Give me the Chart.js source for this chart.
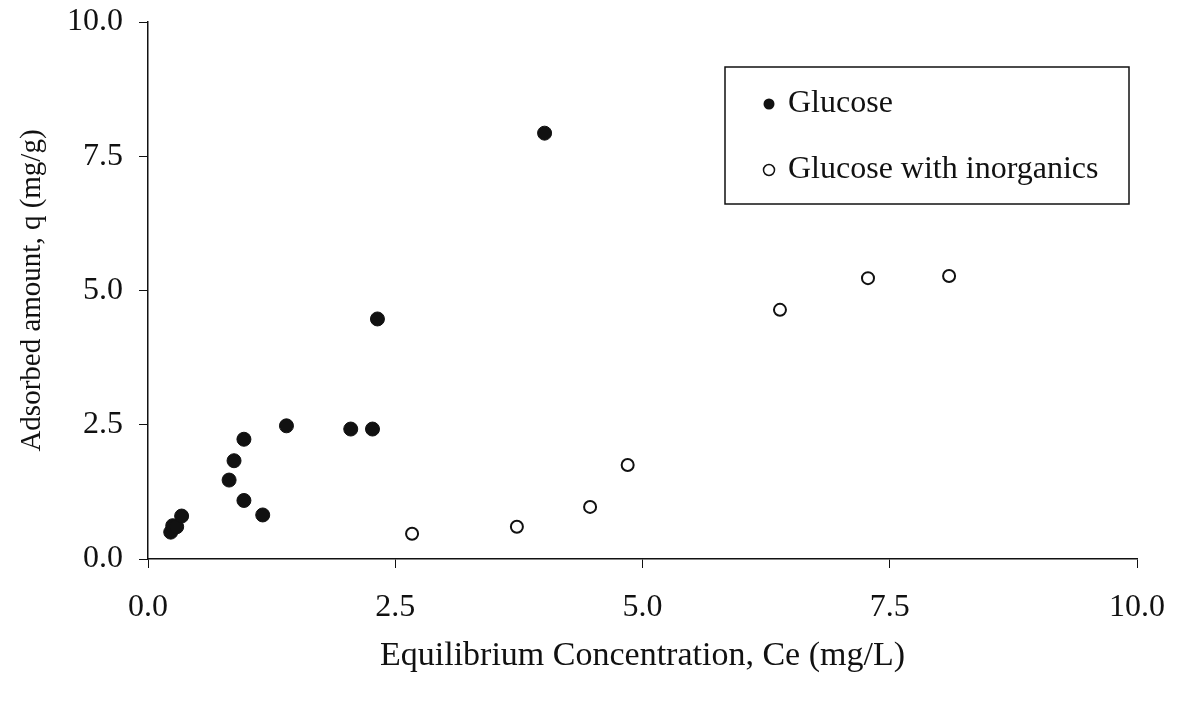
<!DOCTYPE html>
<html>
<head>
<meta charset="utf-8">
<script src="https://cdn.jsdelivr.net/npm/chart.js@4"></script>
<style>
  html, body { margin: 0; padding: 0; background: #fff; }
  #wrap { width: 1179px; height: 701px; }
</style>
</head>
<body>
<div id="wrap"><canvas id="isoChart" width="1179" height="701"></canvas></div>
<script>
// valores
const glucoseX = [0.23, 0.25, 0.29, 0.34, 0.82, 0.87, 0.97, 0.97, 1.16, 1.40, 2.05, 2.27, 2.32, 4.01];
const glucoseY = [0.50, 0.62, 0.60, 0.80, 1.47, 1.83, 2.23, 1.09, 0.82, 2.48, 2.42, 2.42, 4.47, 7.93];
const inorgX = [2.67, 3.73, 4.47, 4.85, 6.39, 7.28, 8.10];
const inorgY = [0.47, 0.60, 0.97, 1.75, 4.64, 5.23, 5.27];
const seriesNames = ['Glucose', 'Glucose with inorganics'];
const axisTicks = [0, 2.5, 5, 7.5, 10];

const toPoints = (xs, ys) => xs.map((x, i) => ({ x: x, y: ys[i] }));
const serif = "'Liberation Serif', 'Times New Roman', serif";

// leyenda en recuadro dentro del area del grafico
const boxLegend = {
    id: 'boxLegend',
    afterDraw(chart) {
        const ctx = chart.ctx;
        const left = 725, top = 67, w = 404, h = 137;
        ctx.save();
        ctx.strokeStyle = '#111';
        ctx.lineWidth = 1.5;
        ctx.strokeRect(left, top, w, h);
        ctx.font = '32px ' + serif;
        ctx.fillStyle = '#111';
        ctx.textBaseline = 'middle';
        chart.data.datasets.forEach((ds, i) => {
            const cy = top + 37 + i * 66;
            ctx.beginPath();
            ctx.arc(left + 44, cy, 5.5, 0, Math.PI * 2);
            if (i === 0) {
                ctx.fill();
            } else {
                ctx.lineWidth = 1.5;
                ctx.stroke();
            }
            ctx.fillText(ds.label, left + 63, cy);
        });
        ctx.restore();
    }
};

// quitar el relleno automatico de las etiquetas para fijar el area
const noPad = (axis) => {
    axis.paddingTop = 0;
    axis.paddingBottom = 0;
    axis.paddingLeft = 0;
    axis.paddingRight = 0;
};

const ctx = document.getElementById('isoChart').getContext('2d');
new Chart(ctx, {
    type: 'scatter',
    data: {
        datasets: [{
            label: seriesNames[0],
            data: toPoints(glucoseX, glucoseY),
            backgroundColor: '#111',
            borderColor: '#111',
            pointRadius: 7,
            pointBorderWidth: 1
        }, {
            label: seriesNames[1],
            data: toPoints(inorgX, inorgY),
            backgroundColor: '#fff',
            borderColor: '#111',
            pointRadius: 6,
            pointBorderWidth: 2
        }]
    },
    options: {
        responsive: false,
        animation: false,
        layout: { padding: { left: 0, top: 22, right: 42, bottom: 0 } },
        plugins: {
            legend: { display: false },
            tooltip: { enabled: false }
        },
        scales: {
            x: {
                type: 'linear',
                min: 0,
                max: 10,
                afterBuildTicks: (axis) => { axis.ticks = axisTicks.map(v => ({ value: v })); },
                afterFit: (axis) => { axis.height = 142; noPad(axis); },
                border: { color: '#111', width: 1.5 },
                grid: { drawOnChartArea: false, color: '#111', tickLength: 9, lineWidth: 1 },
                ticks: {
                    color: '#111',
                    padding: 20,
                    font: { family: serif, size: 32 },
                    callback: (v) => Number(v).toFixed(1)
                },
                title: {
                    display: true,
                    text: 'Equilibrium Concentration, Ce (mg/L)',
                    color: '#111',
                    font: { family: serif, size: 34 },
                    padding: { top: 0, bottom: 25 }
                }
            },
            y: {
                type: 'linear',
                min: 0,
                max: 10,
                afterBuildTicks: (axis) => { axis.ticks = axisTicks.map(v => ({ value: v })); },
                afterFit: (axis) => { axis.width = 148; noPad(axis); },
                border: { color: '#111', width: 1.5 },
                grid: { drawOnChartArea: false, color: '#111', tickLength: 9, lineWidth: 1 },
                ticks: {
                    color: '#111',
                    padding: 16,
                    font: { family: serif, size: 32 },
                    callback: (v) => Number(v).toFixed(1)
                },
                title: {
                    display: true,
                    text: 'Adsorbed amount, q (mg/g)',
                    color: '#111',
                    font: { family: serif, size: 29 },
                    padding: { top: 15, bottom: 0 }
                }
            }
        }
    },
    plugins: [boxLegend]
});
</script>
</body>
</html>
